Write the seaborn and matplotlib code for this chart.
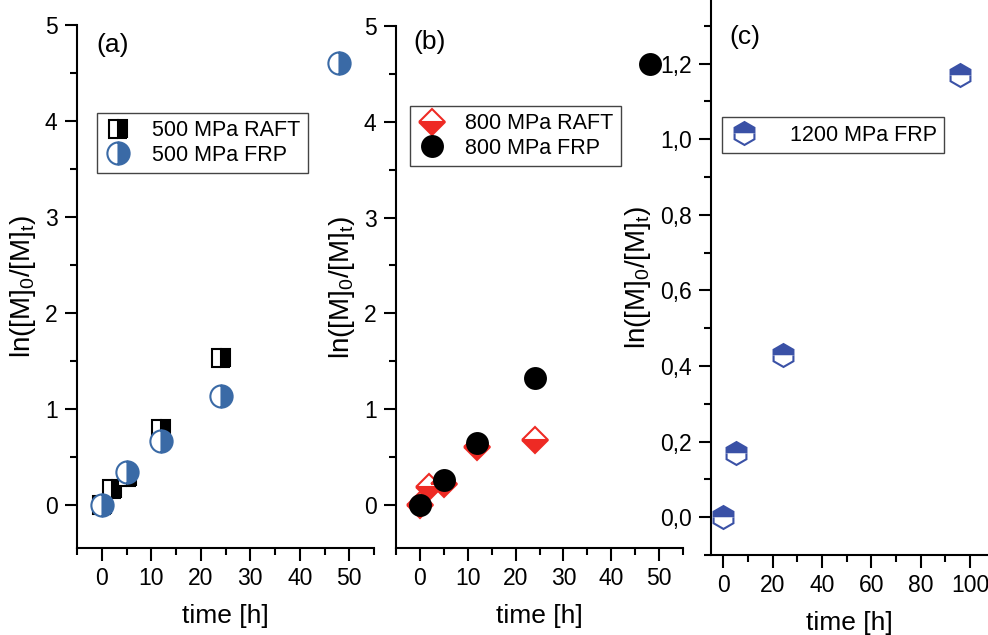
import matplotlib
matplotlib.use("Agg")
import matplotlib.pyplot as plt
import seaborn as sns
from matplotlib.ticker import MultipleLocator, FuncFormatter

# (a) 500 MPa
t_500_raft = [0, 2, 5, 12, 24]
y_500_raft = [0.0, 0.17, 0.29, 0.79, 1.53]
t_500_frp = [0, 5, 12, 24, 48]
y_500_frp = [0.0, 0.34, 0.66, 1.13, 4.60]

# (b) 800 MPa
t_800_raft = [0, 2, 5, 12, 24]
y_800_raft = [0.0, 0.19, 0.22, 0.60, 0.68]
t_800_frp = [0, 5, 12, 24, 48]
y_800_frp = [0.0, 0.26, 0.65, 1.33, 4.60]

# (c) 1200 MPa
t_1200_frp = [0, 5, 24, 96]
y_1200_frp = [0.0, 0.17, 0.43, 1.17]

panel_tags = ["(a)", "(b)", "(c)"]
x_label = "time [h]"
y_label = "ln([M]$_0$/[M]$_t$)"

sns.set_style("ticks")
plt.rcParams["font.family"] = ["Liberation Sans", "DejaVu Sans"]
plt.rcParams["mathtext.fontset"] = "custom"
plt.rcParams["mathtext.rm"] = "Liberation Sans"
plt.rcParams["mathtext.it"] = "Liberation Sans"
plt.rcParams["mathtext.default"] = "regular"
for key in ["text.color", "axes.labelcolor", "xtick.color", "ytick.color", "axes.edgecolor"]:
    plt.rcParams[key] = "black"

W, H = 988, 635
fig = plt.figure(figsize=(W / 100, H / 100), dpi=100)


def px_axes(l, t, r, b):
    return fig.add_axes([l / W, 1 - b / H, (r - l) / W, (b - t) / H])


def draw(ax, x, y, label, marker, size, face, alt, edge, fill):
    sns.lineplot(x=x, y=y, ax=ax, label=label, marker=marker, linestyle="",
                 markersize=size, fillstyle=fill, markerfacecolor=face,
                 markerfacecoloralt=alt, markeredgecolor=edge,
                 markeredgewidth=1.5, color=edge,
                 estimator=None, sort=False, errorbar=None)


def style(ax):
    sns.despine(ax=ax)
    for s in ["left", "bottom"]:
        ax.spines[s].set_linewidth(1.5)
    ax.tick_params(which="major", direction="out", length=9, width=1.5,
                   labelsize=16.5, color="black", labelcolor="black", pad=5)
    ax.tick_params(which="minor", direction="out", length=5, width=1.5)
    ax.set_xlabel(x_label, fontsize=19, labelpad=10, color="black")
    ax.set_ylabel(y_label, fontsize=20, labelpad=5, color="black")


def legend(ax, x, y, gap=0.9):
    leg = ax.legend(loc="upper left", bbox_to_anchor=(x, y), borderaxespad=0,
                    fontsize=15.5, frameon=True, fancybox=False, framealpha=1,
                    edgecolor="#444444", handlelength=1.3, handletextpad=gap,
                    borderpad=0.35, labelspacing=0.15, labelcolor="black")
    leg.get_frame().set_linewidth(1.0)


blue_c = "#3a6aa6"
blue_h = "#3a51a6"
red = "#ee2a24"

# panel (a)
ax1 = px_axes(77, 25, 374, 548)
draw(ax1, t_500_raft, y_500_raft, "500 MPa RAFT", "s", 13, "black", "white", "black", "right")
draw(ax1, t_500_frp, y_500_frp, "500 MPa FRP", "o", 16, blue_c, "white", blue_c, "right")
ax1.set_xlim(-5, 55)
ax1.set_ylim(-0.45, 5)
ax1.xaxis.set_major_locator(MultipleLocator(10))
ax1.xaxis.set_minor_locator(MultipleLocator(5))
ax1.yaxis.set_major_locator(MultipleLocator(1))
ax1.yaxis.set_minor_locator(MultipleLocator(0.5))
style(ax1)
legend(ax1, 0.067, 0.832)

# panel (b)
ax2 = px_axes(396, 26, 683, 548)
draw(ax2, t_800_raft, y_800_raft, "800 MPa RAFT", "D", 13, red, "white", red, "bottom")
draw(ax2, t_800_frp, y_800_frp, "800 MPa FRP", "o", 15, "black", "black", "black", "full")
ax2.set_xlim(-5, 55)
ax2.set_ylim(-0.45, 5)
ax2.xaxis.set_major_locator(MultipleLocator(10))
ax2.xaxis.set_minor_locator(MultipleLocator(5))
ax2.yaxis.set_major_locator(MultipleLocator(1))
ax2.yaxis.set_minor_locator(MultipleLocator(0.5))
style(ax2)
legend(ax2, 0.049, 0.847)

# panel (c)
ax3 = px_axes(711, 0, 988, 555)
draw(ax3, t_1200_frp, y_1200_frp, "1200 MPa FRP", "h", 16.5, blue_h, "white", blue_h, "top")
ax3.set_xlim(-5, 107.3)
ax3.set_ylim(-0.1, 1.368)
ax3.xaxis.set_major_locator(MultipleLocator(20))
ax3.xaxis.set_minor_locator(MultipleLocator(10))
ax3.yaxis.set_major_locator(MultipleLocator(0.2))
ax3.yaxis.set_minor_locator(MultipleLocator(0.1))
ax3.yaxis.set_major_formatter(FuncFormatter(lambda v, p: f"{v:.1f}".replace(".", ",")))
style(ax3)
legend(ax3, 0.04, 0.789, gap=1.5)

for tag, (px, py) in zip(panel_tags, [(113, 45), (430, 42), (745, 37)]):
    fig.text(px / W, 1 - py / H, tag, fontsize=19, ha="center", va="center", color="black")

fig.savefig("out.png", dpi=100)
